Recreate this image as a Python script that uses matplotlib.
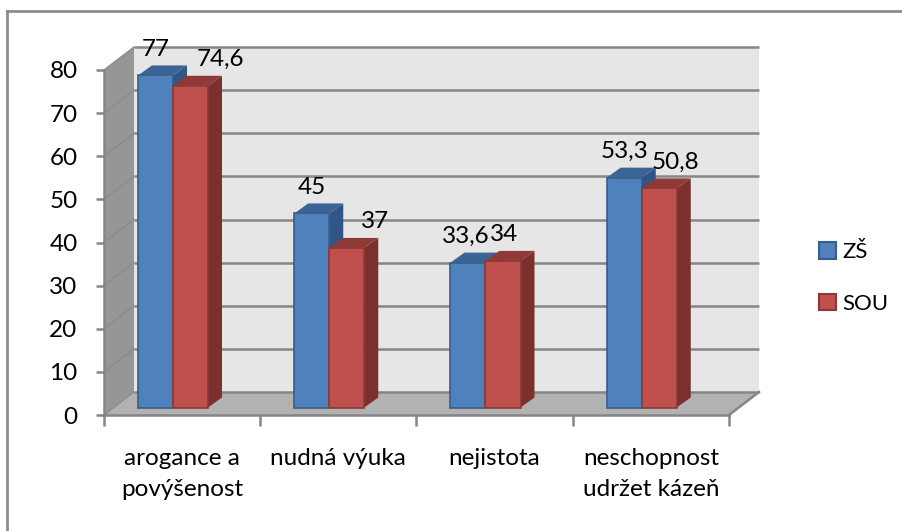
import matplotlib
matplotlib.use('Agg')
import matplotlib.pyplot as plt
from matplotlib.patches import Patch

categories = ['arogance a\npovýšenost', 'nudná výuka', 'nejistota', 'neschopnost\nudržet kázeň']
zs = [77, 45, 33.6, 53.3]
sou = [74.6, 37, 34, 50.8]
y_ticks = [0, 10, 20, 30, 40, 50, 60, 70, 80]

plt.rcParams['font.family'] = ['Lato', 'DejaVu Sans']
W, H = 903, 531
fs = 17.5
fig = plt.figure(figsize=(W/100, H/100), dpi=100)
# front plane of the fake 3d box, in pixels
x0, x1, y0, y1 = 104, 729, 415, 70
ax = fig.add_axes([x0/W, 1-y0/H, (x1-x0)/W, (y0-y1)/H])
ax.set_xlim(0, 4)
ax.set_ylim(0, 80)
px = 4/(x1-x0)
py = 80/(y0-y1)

grey = '#868686'
dx, dy = 30*px, 23*py   # box depth
ax.fill([0, dx, 4+dx, 4], [0, dy, dy, 0], color='#b2b2b2', lw=0, clip_on=False, zorder=1)
ax.fill([0, dx, dx, 0], [0, dy, 80+dy, 80], color='#969696', lw=0, clip_on=False, zorder=1)
ax.fill([dx, 4+dx, 4+dx, dx], [dy, dy, 80+dy, 80+dy], color='#e6e6e6', lw=0, clip_on=False, zorder=1)
for v in y_ticks:
    ax.plot([dx, 4+dx], [v+dy, v+dy], color=grey, lw=1.8, clip_on=False, zorder=2, solid_capstyle='butt')
    ax.plot([0, dx], [v, v+dy], color='#8c8c8c', lw=1, clip_on=False, zorder=2)
ax.plot([4, 4+dx], [0, dy], color=grey, lw=1.8, clip_on=False, zorder=2)

# bars
bw = 35*px
start = 34*px
lift = 7.5*py
bdx, bdy = 14*px, 10*py
series = [(zs, 0, '#4f81bd', '#385d8a', '#2f5685', '#3a6496'),
          (sou, 1, '#c0504d', '#8c3836', '#7c302e', '#903a38')]
for vals, k, face, edge, side, top in series:
    for i, v in enumerate(vals):
        left = i + start + k*bw
        h = v + lift
        ax.fill([left+bw, left+bw+bdx, left+bw+bdx, left+bw], [lift, lift+bdy, h+bdy, h], color=side, lw=0, clip_on=False, zorder=3+k)
        ax.fill([left, left+bdx, left+bw+bdx, left+bw], [h, h+bdy, h+bdy, h], color=top, lw=0, clip_on=False, zorder=3+k)
    lefts = [i + start + k*bw for i in range(4)]
    ax.bar(lefts, vals, bw, bottom=lift, align='edge', color=face, edgecolor=edge, lw=1.2, clip_on=False, zorder=3+k)

# value labels, shifted by hand like in the original
label_dx = [[0, 0, -2, 0], [30, 28, 1, 16]]
for k, vals in enumerate([zs, sou]):
    for i, v in enumerate(vals):
        xc = i + start + (k+0.5)*bw + label_dx[k][i]*px
        ax.text(xc, v + lift + 26*py, str(v).replace('.', ','), ha='center', va='center', fontsize=fs, color='black', zorder=8, clip_on=False)

ax.patch.set_visible(False)
for s in ['top', 'right']:
    ax.spines[s].set_visible(False)
for s in ['left', 'bottom']:
    ax.spines[s].set_color(grey)
    ax.spines[s].set_linewidth(1.8)
    ax.spines[s].set_zorder(2.5)
ax.set_yticks(y_ticks)
ax.set_xticks(range(5))
ax.set_xticklabels([])
ax.set_xticks([0.5, 1.5, 2.5, 3.5], categories, minor=True, fontsize=fs, linespacing=1.6)
ax.tick_params(axis='x', which='major', length=8, width=1.8, color=grey)
ax.tick_params(axis='x', which='minor', length=0, pad=23.5)
ax.tick_params(axis='y', which='major', length=6, width=1.8, color=grey, labelsize=fs, pad=13)

handles = [Patch(facecolor='#4f81bd', edgecolor='#385d8a', lw=1.5, label='ZŠ'),
           Patch(facecolor='#c0504d', edgecolor='#8c3836', lw=1.5, label='SOU')]
fig.legend(handles=handles, loc='center left', bbox_to_anchor=(819/W, 1-278/H), frameon=False, fontsize=16,
           handlelength=0.75, handleheight=0.75, handletextpad=0.3, labelspacing=1.42, borderpad=0, borderaxespad=0)

# outer frame, only left and top are visible in the picture
fig.add_artist(plt.Line2D([7/W, 7/W], [0, 1-11/H], color='#8c8c8c', lw=2))
fig.add_artist(plt.Line2D([7/W, 1], [1-11/H, 1-11/H], color='#8c8c8c', lw=2))

fig.savefig('out.png', dpi=100)
